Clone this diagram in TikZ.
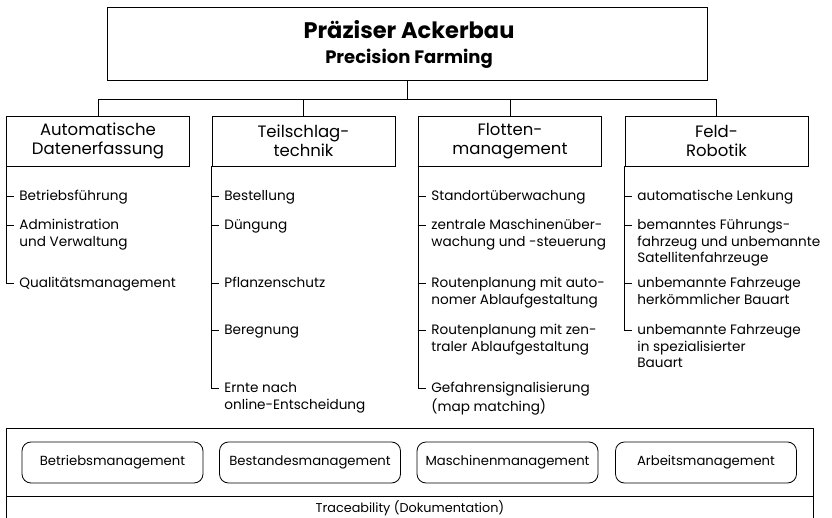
\documentclass[tikz,border=0pt]{standalone}
\usepackage{fontspec}
\setmainfont{Poppins}
\begin{document}
\begin{tikzpicture}[x=1pt,y=-1pt, line width=0.8pt,
  topbox/.style={draw, minimum width=600pt, minimum height=73pt, inner sep=0},
  head/.style={draw, minimum width=183pt, minimum height=50pt, align=center, inner sep=0, font=\fontsize{16.5}{18.5}\selectfont},
  itm/.style={anchor=north west, align=left, inner sep=0, font=\fontsize{13.6}{16.5}\selectfont},
  mgmt/.style={draw, rounded corners=9pt, minimum width=181pt, minimum height=41pt, inner sep=0, font=\fontsize{13.2}{16}\selectfont},
  conn/.style={line width=0.6pt}]
\useasboundingbox (0,0) rectangle (832,518);
% top
\node[topbox] (top) at (407,43.5) {};
\node[font=\bfseries\fontsize{22.5}{26}\selectfont] (t1) at (409,30) {Präziser Ackerbau};
\node[font=\bfseries\fontsize{18}{21}\selectfont] (t2) at (409,59) {Precision Farming};
% heads
\node[head] (h1) at (98,141) {Automatische\\Datenerfassung};
\node[head] (h2) at (303.5,141) {Teilschlag-\\technik};
\node[head] (h3) at (510,141) {Flotten-\\management};
\node[head] (h4) at (716.5,141) {Feld-\\Robotik};
\coordinate (j) at (407,99);
\draw[conn] (top.south) -- (j);
\draw[conn] (h1.north) -- (h1.north |- j) -- (h4.north |- j) -- (h4.north);
\draw[conn] (h2.north) -- (h2.north |- j);
\draw[conn] (h3.north) -- (h3.north |- j);
% column 1
\node[itm] (a1) at (19,189) {\strut Betriebsführung};
\node[itm] (a2) at (19,218) {\strut Administration\\und Verwaltung};
\node[itm] (a3) at (19,276) {\strut Qualitätsmanagement};
\foreach \n in {a1,a2,a3}
  \draw[conn] (h1.south west) |- ([shift={(-5pt,-7pt)}]\n.north west);
% column 2
\node[itm] (b1) at (224,189) {\strut Bestellung};
\node[itm] (b2) at (224,218) {\strut Düngung};
\node[itm] (b3) at (224,276) {\strut Pflanzenschutz};
\node[itm] (b4) at (224,323) {\strut Beregnung};
\node[itm] (b5) at (224,381) {\strut Ernte nach\\online-Entscheidung};
\foreach \n in {b1,b2,b3,b4,b5}
  \draw[conn] (h2.south west) |- ([shift={(-5pt,-7pt)}]\n.north west);
% column 3
\node[itm] (c1) at (431,189) {\strut Standortüberwachung};
\node[itm] (c2) at (431,218) {\strut zentrale Maschinenüber-\\wachung und -steuerung};
\node[itm] (c3) at (431,276) {\strut Routenplanung mit auto-\\nomer Ablaufgestaltung};
\node[itm] (c4) at (431,323) {\strut Routenplanung mit zen-\\traler Ablaufgestaltung};
\node[itm] (c5) at (431,381) {\strut Gefahrensignalisierung\\(map matching)};
\foreach \n in {c1,c2,c3,c4,c5}
  \draw[conn] (h3.south west) |- ([shift={(-5pt,-7pt)}]\n.north west);
% column 4
\node[itm] (d1) at (637,189) {\strut automatische Lenkung};
\node[itm] (d2) at (637,218) {\strut bemanntes Führungs-\\fahrzeug und unbemannte\\Satellitenfahrzeuge};
\node[itm] (d3) at (637,276) {\strut unbemannte Fahrzeuge\\herkömmlicher Bauart};
\node[itm] (d4) at (637,323) {\strut unbemannte Fahrzeuge\\in spezialisierter\\Bauart};
\foreach \n in {d1,d2,d3,d4}
  \draw[conn] (h4.south west) |- ([shift={(-5pt,-7pt)}]\n.north west);
% bottom
\draw (6,519) -- (6,428) -- (813,428) -- (813,519);
\draw (6,496) -- (813,496);
\node[mgmt] (m1) at (112.5,462.5) {Betriebsmanagement};
\node[mgmt] (m2) at (310,462.5) {Bestandesmanagement};
\node[mgmt] (m3) at (507.5,462.5) {Maschinenmanagement};
\node[mgmt] (m4) at (706,462.5) {Arbeitsmanagement};
\node[font=\fontsize{12.8}{16}\selectfont] (tr) at (410,508) {Traceability (Dokumentation)};
\end{tikzpicture}
\end{document}
